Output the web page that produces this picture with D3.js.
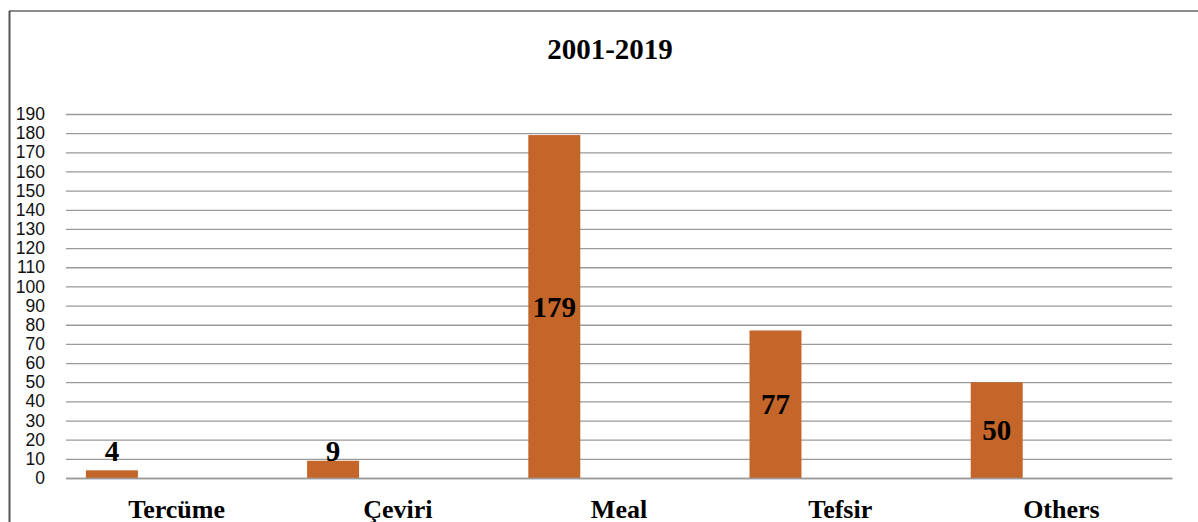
<!DOCTYPE html>
<html>
<head>
<meta charset="utf-8">
<script src="https://cdn.jsdelivr.net/npm/d3@7"></script>
<style>
  body { margin: 0; background: #fff; }
  svg { display: block; }
</style>
</head>
<body>
<div class="chart"></div>
<script>
const categories = ['Tercüme', 'Çeviri', 'Meal', 'Tefsir', 'Others'];
const values = [4, 9, 179, 77, 50];
const yTicks = d3.range(0, 200, 10);
const title = '2001-2019';

const W = 1198, H = 522;
const margin = {top: 114, left: 66, bottom: 44, right: 26};
const width = W - margin.left - margin.right;
const height = H - margin.top - margin.bottom;

const svg = d3.select('.chart')
    .append('svg')
    .attr('width', W)
    .attr('height', H);

// outer frame (only top and left visible)
svg.append('line')
    .attr('x1', 9).attr('x2', W).attr('y1', 11).attr('y2', 11)
    .attr('stroke', '#666').attr('stroke-width', 1.5);
svg.append('line')
    .attr('x1', 9.5).attr('x2', 9.5).attr('y1', 11).attr('y2', H)
    .attr('stroke', '#555').attr('stroke-width', 2);

svg.append('text')
    .attr('x', 610).attr('y', 59)
    .attr('text-anchor', 'middle')
    .style('font-family', '"Liberation Serif", "Times New Roman", serif')
    .style('font-weight', 'bold')
    .style('font-size', '29px')
    .text(title);

const g = svg.append('g')
    .attr('transform', 'translate(' + margin.left + ',' + margin.top + ')');

const xScale = d3.scaleBand()
    .domain(categories)
    .range([0, width])
    .paddingInner(0);

const yScale = d3.scaleLinear()
    .domain([0, 190])
    .range([height, 0]);

// gridlines
g.append('g')
    .attr('class', 'grid')
    .call(d3.axisLeft(yScale).tickValues(yTicks).tickSize(-width).tickFormat(''))
    .call(s => s.select('.domain').remove())
    .call(s => s.selectAll('line').attr('stroke', '#9a9a9a').attr('stroke-width', 1.3));

// y tick labels
g.append('g')
    .attr('class', 'y-axis')
    .call(d3.axisLeft(yScale).tickValues(yTicks).tickSize(0).tickPadding(21))
    .call(s => s.select('.domain').remove())
    .call(s => s.selectAll('text')
        .attr('fill', '#111')
        .style('font-family', '"Liberation Sans", Arial, sans-serif')
        .style('font-size', '17.5px'));

const bw = xScale.bandwidth();
const barOff = bw * 0.09, barW = bw * 0.235;

g.selectAll('rect.bar')
    .data(values)
    .enter()
    .append('rect')
    .attr('class', 'bar')
    .attr('x', (d, i) => xScale(categories[i]) + barOff)
    .attr('y', d => yScale(d))
    .attr('width', barW)
    .attr('height', d => height - yScale(d))
    .attr('fill', '#c4652a');

g.selectAll('text.val')
    .data(values)
    .enter()
    .append('text')
    .attr('class', 'val')
    .attr('x', (d, i) => xScale(categories[i]) + barOff + barW / 2)
    .attr('y', d => Math.min((yScale(d) + height) / 2 + 10, height - 17))
    .attr('text-anchor', 'middle')
    .style('font-family', '"Liberation Serif", "Times New Roman", serif')
    .style('font-weight', 'bold')
    .style('font-size', '29px')
    .text(d => d);

// x axis
g.append('g')
    .attr('class', 'x-axis')
    .attr('transform', 'translate(0,' + height + ')')
    .call(d3.axisBottom(xScale).tickSize(0).tickPadding(22))
    .call(s => s.select('.domain').attr('stroke', '#9a9a9a').attr('stroke-width', 1.3))
    .call(s => s.selectAll('text')
        .attr('fill', '#000')
        .attr('dy', '0.71em')
        .style('font-family', '"Liberation Serif", "Times New Roman", serif')
        .style('font-weight', 'bold')
        .style('font-size', '26px'));
</script>
</body>
</html>
